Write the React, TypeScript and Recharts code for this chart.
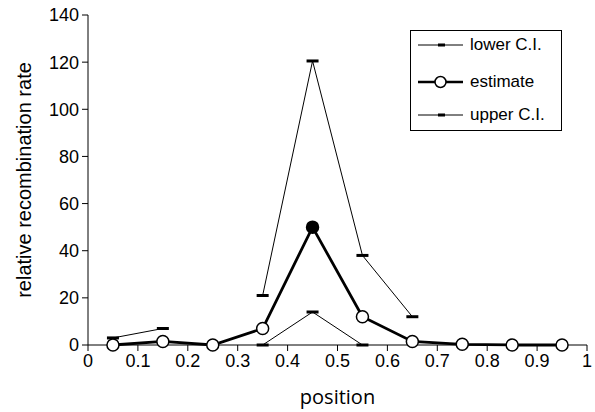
import React from "react";
import { ComposedChart, Line, XAxis, YAxis } from "recharts";

const positions = [0.05, 0.15, 0.25, 0.35, 0.45, 0.55, 0.65, 0.75, 0.85, 0.95];
const estimate = [0, 1.5, 0, 7, 50, 12, 1.5, 0.3, 0, 0];
const upperCI: (number | null)[] = [3, 7, null, 21, 120.5, 38, 12, null, null, null];
const lowerCI: (number | null)[] = [null, null, null, 0, 14, 0, null, null, null, null];

const xTicks = [0, 0.1, 0.2, 0.3, 0.4, 0.5, 0.6, 0.7, 0.8, 0.9, 1];
const yTicks = [0, 20, 40, 60, 80, 100, 120, 140];

const FONT = "'Liberation Sans', Arial, sans-serif";

const data = positions.map((p, i) => ({
  position: p,
  lower: lowerCI[i],
  estimate: estimate[i],
  upper: upperCI[i],
}));

const peakIdx = estimate.indexOf(Math.max(...estimate));

function DashDot(props: any) {
  const { cx, cy, value } = props;
  if (value == null || cx == null || cy == null) return null;
  return <rect x={cx - 6} y={cy - 1.5} width={12} height={3} fill="#000" />;
}

function CircleDot(props: any) {
  const { cx, cy, index } = props;
  if (cx == null || cy == null) return null;
  return (
    <circle
      cx={cx}
      cy={cy}
      r={6}
      fill={index === peakIdx ? "#000" : "#fff"}
      stroke="#000"
      strokeWidth={1.5}
    />
  );
}

function LegendBox() {
  const rows = [
    { label: "lower C.I.", kind: "ci", cy: 14 },
    { label: "estimate", kind: "est", cy: 51 },
    { label: "upper C.I.", kind: "ci", cy: 84 },
  ];
  return (
    <div
      style={{
        position: "absolute",
        left: 410,
        top: 30,
        width: 152,
        height: 101,
        boxSizing: "border-box",
        border: "1px solid #000",
        background: "#fff",
        fontFamily: FONT,
        fontSize: 17,
      }}
    >
      {rows.map((r) => (
        <div
          key={r.label}
          style={{ position: "absolute", left: 0, top: r.cy - 12, height: 24, display: "flex", alignItems: "center" }}
        >
          <svg width={52} height={20} style={{ marginLeft: 7 }}>
            {r.kind === "ci" ? (
              <>
                <line x1={0} y1={10} x2={45} y2={10} stroke="#000" strokeWidth={1} />
                <rect x={20} y={8.5} width={7} height={3} fill="#000" />
              </>
            ) : (
              <>
                <line x1={0} y1={10} x2={45} y2={10} stroke="#000" strokeWidth={2.5} />
                <circle cx={22.5} cy={10} r={5.5} fill="#fff" stroke="#000" strokeWidth={1.5} />
              </>
            )}
          </svg>
          <span style={{ color: "#000", whiteSpace: "nowrap" }}>{r.label}</span>
        </div>
      ))}
    </div>
  );
}

export default function App() {
  return (
    <div style={{ position: "absolute", left: 0, top: 0, width: 595, height: 412, background: "#fff" }}>
      <ComposedChart
        width={595}
        height={412}
        data={data}
        margin={{ top: 15, right: 8, bottom: 8, left: 25 }}
      >
        <XAxis
          dataKey="position"
          type="number"
          domain={[0, 1]}
          ticks={xTicks}
          interval={0}
          height={59}
          tickSize={6}
          tickMargin={3}
          axisLine={{ stroke: "#000" }}
          tickLine={{ stroke: "#000" }}
          tick={{ fill: "#000", fontSize: 18, fontFamily: FONT }}
          label={{ value: "position", position: "insideBottom", offset: 0, fill: "#000", fontSize: 20, fontFamily: "'Open Sans', sans-serif" }}
        />
        <YAxis
          type="number"
          domain={[0, 140]}
          ticks={yTicks}
          interval={0}
          width={63}
          tickSize={6}
          tickMargin={3}
          axisLine={{ stroke: "#000" }}
          tickLine={{ stroke: "#000" }}
          tick={{ fill: "#000", fontSize: 18, fontFamily: FONT }}
          label={{
            value: "relative recombination rate",
            angle: -90,
            position: "insideLeft",
            offset: -1,
            style: { textAnchor: "middle" },
            fill: "#000",
            fontSize: 20,
            fontFamily: FONT,
          }}
        />
        <Line
          dataKey="lower"
          stroke="#000"
          strokeWidth={1}
          dot={<DashDot />}
          activeDot={false}
          connectNulls={false}
          isAnimationActive={false}
        />
        <Line
          dataKey="upper"
          stroke="#000"
          strokeWidth={1}
          dot={<DashDot />}
          activeDot={false}
          connectNulls={false}
          isAnimationActive={false}
        />
        <Line
          dataKey="estimate"
          stroke="#000"
          strokeWidth={2.8}
          dot={<CircleDot />}
          activeDot={false}
          isAnimationActive={false}
        />
      </ComposedChart>
      <LegendBox />
    </div>
  );
}
